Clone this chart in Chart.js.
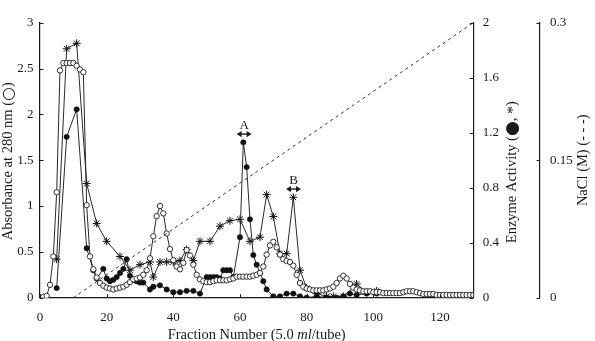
<!DOCTYPE html>
<html><head><meta charset="utf-8">
<script src="https://cdn.jsdelivr.net/npm/chart.js@4.4.1/dist/chart.umd.min.js"></script>
<style>html,body{margin:0;padding:0;background:#fff;}#wrap{width:595px;height:341px;}</style>
</head><body><div id="wrap"><canvas id="c" width="595" height="341"></canvas></div>
<script>
// Absorbance at 280 nm, one value per fraction starting at fraction 1
const absorbanceFirstFraction = 1;
const absorbance = [
  0.01, 0.02, 0.14, 0.45, 1.15, 2.48, 2.56, 2.56, 2.56, 2.56,
  2.53, 2.49, 2.46, 1.01, 0.45, 0.31, 0.22, 0.16, 0.13, 0.11,
  0.10, 0.09, 0.10, 0.11, 0.12, 0.14, 0.17, 0.20, 0.21, 0.22,
  0.25, 0.30, 0.43, 0.67, 0.89, 1.00, 0.92, 0.70, 0.53, 0.41,
  0.34, 0.31, 0.38, 0.52, 0.46, 0.36, 0.25, 0.20, 0.18, 0.17,
  0.17, 0.18, 0.19, 0.19, 0.19, 0.19, 0.20, 0.21, 0.23, 0.23,
  0.23, 0.23, 0.23, 0.24, 0.25, 0.27, 0.34, 0.47, 0.57, 0.61,
  0.55, 0.47, 0.42, 0.40, 0.39, 0.35, 0.25, 0.16, 0.12, 0.10,
  0.09, 0.08, 0.08, 0.08, 0.08, 0.09, 0.10, 0.12, 0.16, 0.21,
  0.24, 0.21, 0.15, 0.11, 0.09, 0.08, 0.07, 0.07, 0.07, 0.06,
  0.06, 0.06, 0.05, 0.05, 0.05, 0.05, 0.05, 0.05, 0.06, 0.07,
  0.07, 0.07, 0.06, 0.05, 0.04, 0.04, 0.04, 0.04, 0.03, 0.03,
  0.03, 0.03, 0.03, 0.03, 0.03, 0.03, 0.03, 0.03, 0.03, 0.03
];
// Enzyme activity (filled circles)
const dotFractions = [5, 8, 11, 14, 16, 17, 19, 20, 21, 22, 23, 24, 25, 26, 27, 28, 29, 30, 31, 33, 34, 36, 38, 40, 42, 44, 46, 48,
  50, 51, 52, 53, 54, 55, 56, 57, 58, 60, 61, 62, 63, 64, 65, 66, 67, 68, 70, 72, 74, 76, 78, 80, 83, 86, 89, 91, 93, 95, 98, 101];
const dotValues = [0.07, 1.17, 1.37, 0.36, 0.20, 0.14, 0.21, 0.14, 0.12, 0.13, 0.15, 0.18, 0.21, 0.28, 0.16, 0.13, 0.12, 0.11, 0.11, 0.06, 0.08, 0.09, 0.06, 0.04, 0.04, 0.05, 0.05, 0.03,
  0.15, 0.15, 0.15, 0.15, 0.14, 0.20, 0.20, 0.20, 0.15, 0.44, 1.13, 0.95, 0.57, 0.31, 0.24, 0.18, 0.12, 0.06, 0.01, 0.01, 0.03, 0.03, 0.01, 0.00, 0.01, 0.00, 0.00, 0.01, 0.03, 0.02, 0.03, 0.03];
// Enzyme activity (asterisks)
const starFractions = [5, 8, 11, 14, 17, 20, 24, 27, 30, 33, 34, 36, 38, 40, 42, 44, 46, 48, 51, 54, 57, 60, 63, 66, 68, 70, 72, 74, 76, 78, 80, 83, 86, 88, 91, 95, 98, 101];
const starValues = [0.28, 1.81, 1.85, 0.83, 0.54, 0.41, 0.30, 0.20, 0.24, 0.26, 0.15, 0.26, 0.26, 0.26, 0.27, 0.35, 0.27, 0.41, 0.41, 0.52, 0.56, 0.57, 0.41, 0.44, 0.75, 0.59, 0.32, 0.32, 0.73, 0.20, 0.07, 0.03, 0.01, 0.01, 0.01, 0.10, 0.04, 0.05];
// NaCl gradient
const naclFractions = [10, 130];
const naclValues = [0, 0.3];
// Tick values
const xTicks = [0, 20, 40, 60, 80, 100, 120];
const absTicks = [0, 0.5, 1, 1.5, 2, 2.5, 3];
const actTicks = [0, 0.4, 0.8, 1.2, 1.6, 2];
const naclTicks = [0, 0.15, 0.3];
// Pooled peaks (labels, fraction ranges, activity level of the arrow)
const poolLabels = ['A', 'B'];
const poolFrom = [59, 73.8];
const poolTo = [63.5, 78.3];
const poolLevel = [1.19, 0.79];

const INK = '#1a1a1a';
const SERIF = '"Liberation Serif", "DejaVu Serif", serif';
const tickFont = {family: SERIF, size: 13};

const absPoints = absorbance.map((v, i) => ({x: absorbanceFirstFraction + i, y: v}));
const dotPoints = dotFractions.map((f, i) => ({x: f, y: dotValues[i]}));
const starPoints = starFractions.map((f, i) => ({x: f, y: starValues[i]}));
const naclPoints = naclFractions.map((f, i) => ({x: f, y: naclValues[i]}));

function fixedTicks(list) { return s => { s.ticks = list.map(v => ({value: v})); }; }
function axisBase(list, pad) {
  return {
    afterBuildTicks: fixedTicks(list),
    grid: {display: true, drawOnChartArea: false, drawTicks: false},
    border: {display: true, color: INK, width: 1.2},
    ticks: {font: tickFont, color: INK, padding: pad, autoSkip: false, maxRotation: 0,
      callback: v => String(v)}
  };
}

const tickMarks = {
  id: 'tickMarks',
  afterDraw(chart) {
    const ctx = chart.ctx, s = chart.scales, L = 3.5;
    ctx.save(); ctx.strokeStyle = INK; ctx.lineWidth = 1;
    const seg = (a, b, c, d) => { ctx.beginPath(); ctx.moveTo(a, b); ctx.lineTo(c, d); ctx.stroke(); };
    s.x.ticks.forEach(t => { const p = Math.round(s.x.getPixelForValue(t.value)) + 0.5; seg(p, s.x.top, p, s.x.top - L); });
    s.y.ticks.forEach(t => { const p = Math.round(s.y.getPixelForValue(t.value)) + 0.5; seg(s.y.right, p, s.y.right + L, p); });
    s.y2.ticks.forEach(t => { const p = Math.round(s.y2.getPixelForValue(t.value)) + 0.5; seg(s.y2.left, p, s.y2.left - L, p); });
    s.y3.ticks.forEach(t => { const p = Math.round(s.y3.getPixelForValue(t.value)) + 0.5; seg(s.y3.left, p, s.y3.left - L, p); });
    ctx.restore();
  }
};

const titles = {
  id: 'titles',
  afterDraw(chart) {
    const ctx = chart.ctx, s = chart.scales;
    ctx.save(); ctx.fillStyle = INK; ctx.textBaseline = 'middle';
    // rotated title made of runs with their own fonts, centred on (x, y)
    const vRuns = (runs, x, y) => {
      ctx.save(); ctx.translate(x, y); ctx.rotate(-Math.PI / 2); ctx.textAlign = 'left';
      let w = 0; runs.forEach(r => { ctx.font = r[1]; w += ctx.measureText(r[0]).width; });
      let p = -w / 2;
      runs.forEach(r => { ctx.font = r[1]; ctx.fillText(r[0], p, r[2] || 0); p += ctx.measureText(r[0]).width; });
      ctx.restore();
    };
    const F = '14.5px ' + SERIF;
    const midY = (s.y.top + s.y.bottom) / 2;
    vRuns([['Absorbance at 280 nm (', F], ['\u25CB', '16px "DejaVu Sans", sans-serif', 0.5], [')', F]], 8, midY + 1);
    vRuns([['Enzyme Activity (', F], ['\u25CF', '17px "DejaVu Sans", sans-serif', 0.5], [', ', F], ['*', '16px ' + SERIF, 2], [')', F]], s.y2.left + 38.5, midY + 12);
    vRuns([['NaCl (M) (- - -)', F]], s.y3.left + 43, midY);
    // x title with italic unit
    const parts = [['Fraction Number (5.0 ', F], ['ml', 'italic ' + F], ['/tube)', F]];
    let w = 0; parts.forEach(p => { ctx.font = p[1]; w += ctx.measureText(p[0]).width; });
    let x = (s.x.left + s.x.right) / 2 - w / 2; const y = 335;
    ctx.textAlign = 'left';
    parts.forEach(p => { ctx.font = p[1]; ctx.fillText(p[0], x, y); x += ctx.measureText(p[0]).width; });
    // pooled fraction markers
    ctx.strokeStyle = INK; ctx.lineWidth = 1.4;
    poolLabels.forEach((lab, i) => {
      const x0 = s.x.getPixelForValue(poolFrom[i]), x1 = s.x.getPixelForValue(poolTo[i]);
      const yy = s.y2.getPixelForValue(poolLevel[i]);
      ctx.beginPath(); ctx.moveTo(x0 + 3, yy); ctx.lineTo(x1 - 3, yy); ctx.stroke();
      ctx.beginPath(); ctx.moveTo(x0, yy); ctx.lineTo(x0 + 5, yy - 3.2); ctx.lineTo(x0 + 5, yy + 3.2); ctx.closePath(); ctx.fill();
      ctx.beginPath(); ctx.moveTo(x1, yy); ctx.lineTo(x1 - 5, yy - 3.2); ctx.lineTo(x1 - 5, yy + 3.2); ctx.closePath(); ctx.fill();
      ctx.font = '13px ' + SERIF; ctx.textAlign = 'center'; ctx.textBaseline = 'alphabetic';
      ctx.fillText(lab, (x0 + x1) / 2, yy - 5);
      ctx.textBaseline = 'middle';
    });
    ctx.restore();
  }
};

new Chart(document.getElementById('c'), {
  type: 'scatter',
  data: {datasets: [
    {label: 'NaCl', data: naclPoints, yAxisID: 'y3', showLine: true, borderColor: '#333', borderWidth: 1,
      borderDash: [3, 3.5], pointRadius: 0},
    {label: 'Absorbance', data: absPoints, yAxisID: 'y', showLine: true, borderColor: '#2a2a2a', borderWidth: 1,
      pointStyle: 'circle', pointRadius: 2.7, pointBackgroundColor: '#fff', pointBorderColor: '#1e1e1e', pointBorderWidth: 0.9},
    {label: 'Activity dots', data: dotPoints, yAxisID: 'y2', showLine: true, borderColor: '#2a2a2a', borderWidth: 1,
      pointStyle: 'circle', pointRadius: 2.7, pointBackgroundColor: '#111', pointBorderColor: '#111', pointBorderWidth: 0.5},
    {label: 'Activity stars', data: starPoints, yAxisID: 'y2', showLine: true, borderColor: '#2a2a2a', borderWidth: 1,
      pointStyle: 'star', pointRadius: 4, pointBackgroundColor: '#111', pointBorderColor: '#111', pointBorderWidth: 1}
  ]},
  options: {
    responsive: false, animation: false, devicePixelRatio: 1,
    layout: {padding: {top: 22.7, left: 0, right: 0, bottom: 0}},
    plugins: {legend: {display: false}, tooltip: {enabled: false}},
    elements: {line: {tension: 0}},
    scales: {
      x: Object.assign(axisBase(xTicks, 12), {type: 'linear', min: 0, max: 130, afterFit: s => { s.height = 43.3; }}),
      y: Object.assign(axisBase(absTicks, 6.5), {type: 'linear', position: 'left', min: 0, max: 3, afterFit: s => { s.width = 40; }}),
      y2: Object.assign(axisBase(actTicks, 9.5), {type: 'linear', position: 'right', min: 0, max: 2, afterFit: s => { s.width = 66.7; }}),
      y3: Object.assign(axisBase(naclTicks, 10), {type: 'linear', position: 'right', min: 0, max: 0.3, afterFit: s => { s.width = 55; }})
    }
  },
  plugins: [tickMarks, titles]
});
</script></body></html>
